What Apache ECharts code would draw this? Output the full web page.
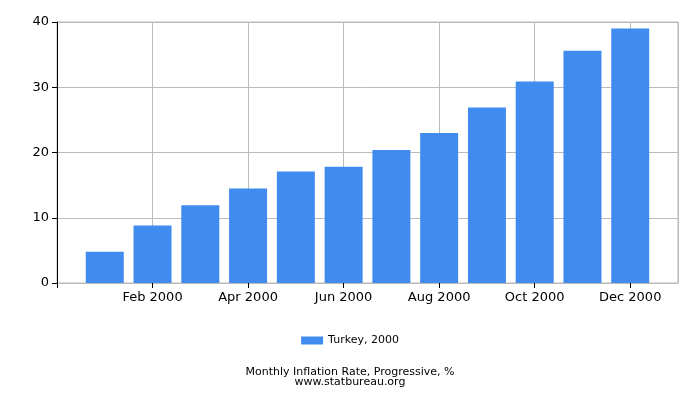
<!DOCTYPE html>
<html><head><meta charset="utf-8">
<script src="https://cdn.jsdelivr.net/npm/echarts@6/dist/echarts.min.js"></script>
<style>html,body{margin:0;padding:0;background:#fff}#c{width:700px;height:400px}</style>
</head><body><div id="c"></div>
<script>
var categories = ['Jan 2000','Feb 2000','Mar 2000','Apr 2000','May 2000','Jun 2000','Jul 2000','Aug 2000','Sep 2000','Oct 2000','Nov 2000','Dec 2000'];
var values = [4.8, 8.8, 11.9, 14.5, 17.1, 17.8, 20.4, 23.0, 26.9, 30.9, 35.6, 39.0];
var seriesName = 'Turkey, 2000';
var yTicks = [0, 10, 20, 30, 40];

var font = 'DejaVu Sans';
var chart = echarts.init(document.getElementById('c'));
chart.setOption({
  animation: false,
  textStyle: {fontFamily: font},
  grid: {left: 57, right: 22, top: 22, bottom: 117, show: true, borderColor: '#bbbbbb', borderWidth: 1},
  legend: {
    data: [seriesName], bottom: 49, left: 'center', itemWidth: 22, itemHeight: 8, itemGap: 4,
    icon: 'rect', textStyle: {fontSize: 11, color: '#000', fontFamily: font}
  },
  title: {
    text: 'Monthly Inflation Rate, Progressive, %\nwww.statbureau.org',
    left: 'center', top: 367, padding: 0,
    textStyle: {fontSize: 11, fontWeight: 'normal', color: '#000', lineHeight: 10, fontFamily: font}
  },
  xAxis: {
    type: 'value', min: 0, max: categories.length + 1, interval: 2,
    axisLine: {show: true, onZero: false, lineStyle: {color: '#bbbbbb'}},
    axisTick: {show: true, length: 5, lineStyle: {color: '#000'}},
    splitLine: {show: true, lineStyle: {color: '#bbbbbb'}},
    axisLabel: {
      fontSize: 13, color: '#000', margin: 8, fontFamily: font, showMaxLabel: false,
      formatter: function (v) { return v >= 1 && v <= categories.length ? categories[v - 1] : ''; }
    }
  },
  yAxis: {
    type: 'value', min: yTicks[0], max: yTicks[yTicks.length - 1], interval: 10,
    axisLine: {show: true, lineStyle: {color: '#000'}},
    axisTick: {show: true, length: 5, lineStyle: {color: '#000'}},
    splitLine: {show: true, lineStyle: {color: '#bbbbbb'}},
    axisLabel: {fontSize: 13, color: '#000', margin: 8, fontFamily: font}
  },
  series: [{
    name: seriesName, type: 'bar', barWidth: 38,
    itemStyle: {color: '#418bef'},
    data: values.map(function (v, i) { return [i + 1, v]; })
  }]
});
</script></body></html>
